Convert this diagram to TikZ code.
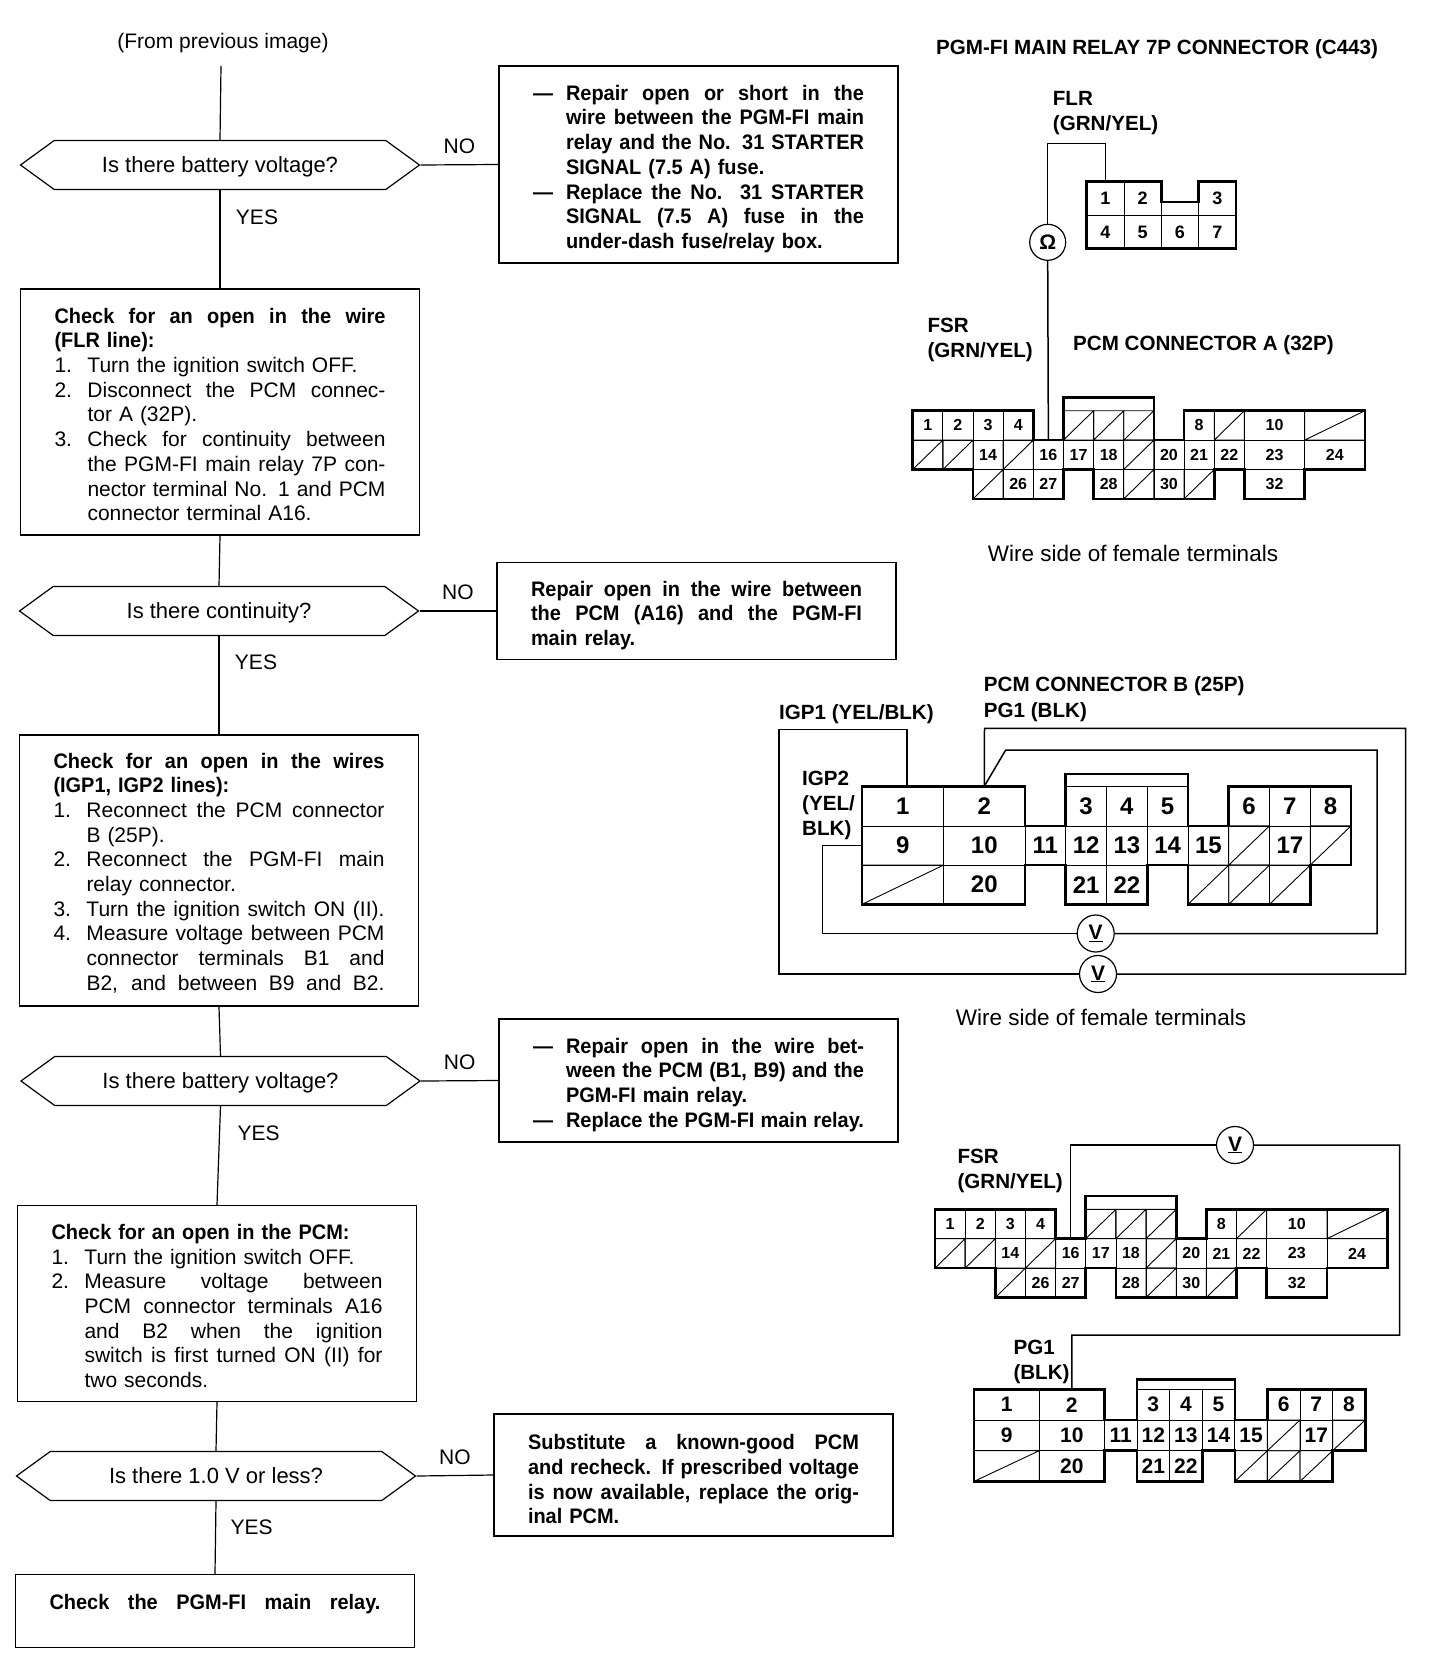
\documentclass[tikz,border=0pt]{standalone}
\usepackage{fontspec}
\setmainfont{Liberation Sans}
\newfontface\boxbf{Liberation Sans Bold}[FakeStretch=0.95]
\usetikzlibrary{shapes.symbols}
\newcommand{\jl}[1]{\leavevmode\hbox to 331pt{\spaceskip=0pt \xspaceskip=0pt #1}}
\newcommand{\itm}[2]{\leavevmode\makebox[33pt][l]{#1}\hbox to 298pt{\spaceskip=0pt \xspaceskip=0pt #2}}
\newcommand{\nat}[2]{\leavevmode\makebox[33pt][l]{#1}#2}
\def\cellw{30.15pt}
\def\cellh{29.4pt}
\def\cellfont{\fontsize{16}{16}\selectfont}
\tikzset{
    txt/.style={font=\fontsize{21}{24.7}\selectfont, inner sep=0pt},
    lab/.style={font=\fontsize{20.6}{25}\selectfont\bfseries, inner sep=0pt, anchor=west, align=left, yshift=-1.5pt},
    topgap/.style={execute at begin node={\rule{0pt}{#1}}},
    dec/.style={signal, signal to=west and east, signal pointer angle=72, draw, line width=1.2pt,
                minimum width=399pt, minimum height=49pt, inner sep=0pt, txt, font=\fontsize{22}{24.7}\selectfont,
                text height=18pt, text depth=3pt},
    stepbox/.style={draw, line width=1.2pt, minimum width=399pt, inner sep=0pt,
                    text width=331pt, align=left, txt, topgap=20pt},
    fixbox/.style={stepbox, font=\fontsize{21}{24.7}\boxbf, topgap=24pt},
    meter/.style={circle, draw, line width=1.2pt, minimum size=37pt, inner sep=0pt, fill=white,
                  font=\fontsize{21}{21}\selectfont\bfseries},
    flow/.style={line width=1.2pt},
    wire/.style={line width=1.5pt},
    shell/.style={line width=2.6pt, line join=miter},
    cell/.style={draw, line width=.8pt, inner sep=0pt, minimum height=\cellh, font=\cellfont\bfseries},
    void/.style={line width=.9pt},
    pics/relayconn/.style={code={
        \foreach \cx/\ry/\pin in {0/0/1, 1/0/2, 3/0/3, 0/1/4, 1/1/5, 2/1/6, 3/1/7}
            \node[cell, minimum width=\cellw] (\pin) at (\cx+.5, \ry+.5) {\pin};
        \draw[shell] (0,0) -- (2,0) -- (2,.6) -- (3,.6) -- (3,0) -- (4,0) -- (4,2) -- (0,2) -- cycle;
    }},
    pics/pcmconna/.style={code={
        \foreach \cx/\ry/\cw/\pin in {0/0/1/1, 1/0/1/2, 2/0/1/3, 3/0/1/4, 9/0/1/8, 11/0/2/10,
                2/1/1/14, 4/1/1/16, 5/1/1/17, 6/1/1/18, 8/1/1/20, 9/1/1/21, 10/1/1/22, 11/1/2/23, 13/1/2/24,
                3/2/1/26, 4/2/1/27, 6/2/1/28, 8/2/1/30, 11/2/2/32}
            \node[cell, minimum width=\cw*\cellw] (\pin) at (\cx+\cw/2, \ry+.5) {\pin};
        \foreach \cx/\ry/\cw in {5/0/1, 6/0/1, 7/0/1, 10/0/1, 13/0/2, 0/1/1, 1/1/1, 3/1/1, 7/1/1, 2/2/1, 7/2/1, 9/2/1}
            \draw[void] (\cx,\ry) rectangle +(\cw,1) (\cx,\ry+1) -- (\cx+\cw,\ry);
        \draw[shell] (0,0) -- (4,0) -- (4,1) -- (5,1) -- (5,-.45) -- (8,-.45) -- (8,1) -- (9,1) -- (9,0)
            -- (15,0) -- (15,2) -- (13,2) -- (13,3) -- (11,3) -- (11,2) -- (10,2) -- (10,3) -- (6,3)
            -- (6,2) -- (5,2) -- (5,3) -- (2,3) -- (2,2) -- (0,2) -- cycle;
    }},
    pics/pcmconnb/.style={code={
        \foreach \cx/\ry/\cw/\pin in {0/0/2/1, 2/0/2/2, 5/0/1/3, 6/0/1/4, 7/0/1/5, 9/0/1/6, 10/0/1/7, 11/0/1/8,
                0/1/2/9, 2/1/2/10, 4/1/1/11, 5/1/1/12, 6/1/1/13, 7/1/1/14, 8/1/1/15, 10/1/1/17,
                2/2/2/20, 5/2/1/21, 6/2/1/22}
            \node[cell, minimum width=\cw*\cellw] (\pin) at (\cx+\cw/2, \ry+.5) {\pin};
        \foreach \cx/\ry/\cw in {9/1/1, 11/1/1, 0/2/2, 8/2/1, 9/2/1, 10/2/1}
            \draw[void] (\cx,\ry) rectangle +(\cw,1) (\cx,\ry+1) -- (\cx+\cw,\ry);
        \draw[shell] (0,0) -- (4,0) -- (4,1) -- (5,1) -- (5,-.32) -- (8,-.32) -- (8,1) -- (9,1) -- (9,0)
            -- (12,0) -- (12,2) -- (11,2) -- (11,3) -- (8,3) -- (8,2) -- (7,2) -- (7,3) -- (5,3)
            -- (5,2) -- (4,2) -- (4,3) -- (0,3) -- cycle;
    }}
}

\begin{document}
\begin{tikzpicture}[x=1pt, y=-1pt]
    \useasboundingbox (0,0) rectangle (1440,1668);

    % Flow chart, left column
    \node[txt] (from) at (223,43) {(From previous image)};
    \coordinate (entry) at (221,66);
    \node[dec] (dec1) at (220,165) {Is there battery voltage?};
    \node[stepbox, minimum height=246pt] (box1) at (220,412) {%
        {\boxbf\jl{Check for an open in the wire}}\\
        {\boxbf (FLR line):}\\
        \nat{1.}{Turn the ignition switch OFF.}\\
        \itm{2.}{Disconnect the PCM connec-}\\
        \nat{}{tor A (32P).}\\
        \itm{3.}{Check for continuity between}\\
        \itm{}{the PGM-FI main relay 7P con-}\\
        \itm{}{nector terminal No. 1 and PCM}\\
        \nat{}{connector terminal A16.}};
    \node[dec] (dec2) at (219,611) {Is there continuity?};
    \node[stepbox, minimum height=271pt] (box2) at (219,870.5) {%
        {\boxbf\jl{Check for an open in the wires}}\\
        {\boxbf (IGP1, IGP2 lines):}\\
        \itm{1.}{Reconnect the PCM connector}\\
        \nat{}{B (25P).}\\
        \itm{2.}{Reconnect the PGM-FI main}\\
        \nat{}{relay connector.}\\
        \itm{3.}{Turn the ignition switch ON (II).}\\
        \itm{4.}{Measure voltage between PCM}\\
        \itm{}{connector terminals B1 and}\\
        \itm{}{B2, and between B9 and B2.}};
    \node[dec] (dec3) at (220.5,1081) {Is there battery voltage?};
    \node[stepbox, minimum height=196pt] (box3) at (217,1303.5) {%
        {\boxbf Check for an open in the PCM:}\\
        \nat{1.}{Turn the ignition switch OFF.}\\
        \itm{2.}{Measure voltage between}\\
        \itm{}{PCM connector terminals A16}\\
        \itm{}{and B2 when the ignition}\\
        \itm{}{switch is first turned ON (II) for}\\
        \nat{}{two seconds.}};
    \node[dec] (dec4) at (216,1476) {Is there 1.0 V or less?};
    \node[stepbox, minimum height=73pt] (box4) at (215,1611) {%
        {\boxbf\jl{Check the PGM-FI main relay.}}\\[-2.3pt]\mbox{}};

    % Flow chart, repair boxes
    \node[fixbox, minimum height=197pt] (fix1) at (698.5,164.5) {%
        \itm{—}{Repair open or short in the}\\
        \itm{}{wire between the PGM-FI main}\\
        \itm{}{relay and the No. 31 STARTER}\\
        \nat{}{SIGNAL (7.5 A) fuse.}\\
        \itm{—}{Replace the No. 31 STARTER}\\
        \itm{}{SIGNAL (7.5 A) fuse in the}\\
        \nat{}{under-dash fuse/relay box.}};
    \node[fixbox, minimum height=97.5pt] (fix2) at (696.5,611) {%
        \jl{Repair open in the wire between}\\
        \jl{the PCM (A16) and the PGM-FI}\\
        main relay.};
    \node[fixbox, minimum height=123pt] (fix3) at (698.5,1080.5) {%
        \itm{—}{Repair open in the wire bet-}\\
        \itm{}{ween the PCM (B1, B9) and the}\\
        \nat{}{PGM-FI main relay.}\\
        \itm{—}{Replace the PGM-FI main relay.}};
    \node[fixbox, minimum height=122pt] (fix4) at (693.5,1475) {%
        \jl{Substitute a known-good PCM}\\
        \jl{and recheck. If prescribed voltage}\\
        \jl{is now available, replace the orig-}\\
        inal PCM.};

    \draw[flow] (entry) -- (dec1.north);
    \draw[flow] (dec1.south) -- node[txt, pos=.28, xshift=37pt] (yes1) {YES} (box1.north);
    \draw[flow] (box1.south) -- (dec2.north);
    \draw[flow] (dec2.south) -- node[txt, pos=.27, xshift=37pt] (yes2) {YES} (box2.north);
    \draw[flow] (box2.south) -- (dec3.north);
    \draw[flow] (dec3.south) -- node[txt, pos=.27, xshift=39pt] (yes3) {YES} (box3.north);
    \draw[flow] (box3.south) -- (dec4.north);
    \draw[flow] (dec4.south) -- node[txt, pos=.36, xshift=36pt] (yes4) {YES} (box4.north);
    \draw[flow] (dec1.east) -- node[txt, yshift=18.5pt] (no1) {NO} (fix1.west);
    \draw[flow] (dec2.east) -- node[txt, yshift=18.5pt] (no2) {NO} (fix2.west);
    \draw[flow] (dec3.east) -- node[txt, yshift=18pt] (no3) {NO} (fix3.west);
    \draw[flow] (dec4.east) -- node[txt, yshift=18pt] (no4) {NO} (fix4.west);

    % Relay connector and continuity check
    \node[lab] (relaytitle) at (936,48) {PGM-FI MAIN RELAY 7P CONNECTOR (C443)};
    \node[lab] (flr) at (1052.7,112) {FLR\\(GRN/YEL)};
    \def\cellw{37.3pt}\def\cellh{33.5pt}\def\cellfont{\fontsize{18}{18}\selectfont}
    \path (1086.7,181.7) pic[x=37.3pt, y=-33.5pt] (relay-) {relayconn};
    \def\cellw{30.15pt}\def\cellh{29.4pt}\def\cellfont{\fontsize{16}{16}\selectfont}
    \path (912.7,410.7) pic[x=30.15pt, y=-29.4pt] (pcma-) {pcmconna};
    \node[meter, minimum size=36pt] (ohm) at (1047.7,242.3) {Ω};
    \coordinate (flrbend) at (1047.7,143.3);
    \draw[wire] (relay-1.north) |- (flrbend) -- (ohm.north);
    \draw[wire] (ohm.south) -- (pcma-16.north);
    \node[lab] (fsr) at (927.3,338) {FSR\\(GRN/YEL)};
    \node[lab] (pcmatitle) at (1073,343.3) {PCM CONNECTOR A (32P)};
    \node[txt, font=\fontsize{22.5}{25}\selectfont] (side1) at (1133,553) {Wire side of female terminals};

    % Connector B, voltage checks
    \node[lab] (pcmbtitle) at (983.7,685) {PCM CONNECTOR B (25P)};
    \node[lab] (pg1a) at (983.7,710.7) {PG1 (BLK)};
    \node[lab] (igp1) at (779,713) {IGP1 (YEL/BLK)};
    \node[lab] (igp2) at (802,804) {IGP2\\(YEL/\\BLK)};
    \def\cellw{40.75pt}\def\cellh{39.2pt}\def\cellfont{\fontsize{24}{24}\selectfont}
    \path (862,786.7) pic[x=40.75pt, y=-39.2pt] (pcmb-) {pcmconnb};
    \node[meter] (vone) at (1095.7,933.5) {\underline{V}};
    \node[meter] (vtwo) at (1098,974) {\underline{V}};
    \coordinate (outera) at (779,729.3);
    \coordinate (outerb) at (1405.5,728.3);
    \coordinate (outerc) at (984.5,728.3);
    \coordinate (innera) at (1377,750);
    \coordinate (innerb) at (1005.7,750);
    \draw[wire] ([xshift=4pt]pcmb-1.north) |- (outera) |- (vtwo.west);
    \draw[wire] (vtwo.east) -| (outerb) -- (outerc) -- (pcmb-2.north);
    \draw[wire] (pcmb-9.west) -- ++(-39,0) |- (vone.west);
    \draw[wire] (vone.east) -| (innera) -- (innerb) -- (pcmb-2.north);
    \node[txt, font=\fontsize{22.5}{25}\selectfont] (side2) at (1101,1017) {Wire side of female terminals};

    % Checking A16 against B2
    \def\cellw{30.15pt}\def\cellh{29.4pt}\def\cellfont{\fontsize{16}{16}\selectfont}
    \path (935,1209.3) pic[x=30.15pt, y=-29.4pt] (pcmc-) {pcmconna};
    \def\cellw{32.6pt}\def\cellh{30.7pt}\def\cellfont{\fontsize{21}{21}\selectfont}
    \path (974,1389.3) pic[x=32.6pt, y=-30.7pt] (pcmd-) {pcmconnb};
    \node[lab] (fsrb) at (957.3,1169.7) {FSR\\(GRN/YEL)};
    \node[lab] (pg1b) at (1013.3,1360.3) {PG1\\(BLK)};
    \node[meter] (vthree) at (1235,1145) {\underline{V}};
    \coordinate (loopa) at (1399.5,1335);
    \coordinate (loopb) at (1071.8,1335);
    \draw[wire] (pcmc-16.north) |- (vthree.west);
    \draw[wire] (vthree.east) -| (loopa) -- (loopb) -- (pcmd-2.north);
\end{tikzpicture}
\end{document}
